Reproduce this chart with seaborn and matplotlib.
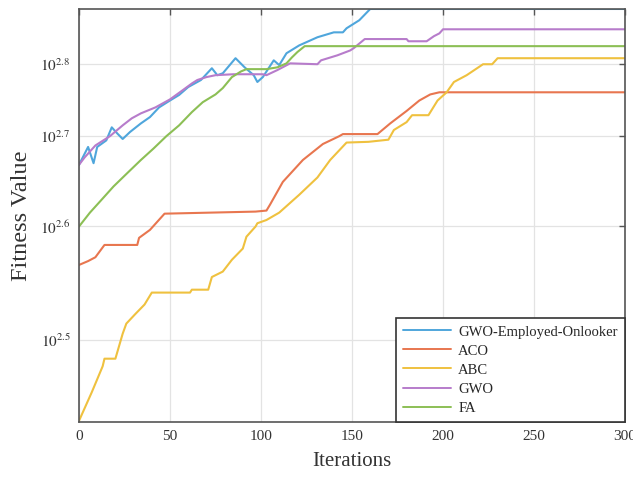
import numpy as np
import pandas as pd
import matplotlib
matplotlib.use("Agg")
import matplotlib.pyplot as plt
import matplotlib.ticker as mticker
from matplotlib.lines import Line2D
import seaborn as sns

# values (iteration, fitness)
gwo_eo_iter = [0, 5, 8, 10, 15, 18, 21, 24, 28, 34, 39, 44, 50, 55, 60, 67, 73, 76, 79,
               86, 91, 96, 98, 101, 107, 110, 114, 121, 131, 140, 145, 147, 154, 160, 300]
gwo_eo_fit = [463, 486, 465, 486, 495, 514, 505, 497, 507, 520, 530, 546, 558, 568, 583,
              597, 622, 607, 611, 645, 624, 607, 593, 603, 640, 629, 657, 677, 699, 713,
              713, 725, 750, 788, 788]

aco_iter = [0, 5, 9, 14, 32, 33, 39, 47, 97, 103, 105, 112, 123, 134, 143, 145, 164,
            171, 180, 187, 193, 198, 300]
aco_fit = [366, 369, 372, 382, 382, 388, 395, 410, 412, 413, 419, 443, 469, 490, 501,
           504, 504, 520, 540, 558, 569, 573, 573]

abc_iter = [0, 7, 13, 14, 20, 24, 26, 31, 36, 40, 61, 62, 71, 73, 79, 84, 90, 92, 97,
            98, 103, 110, 121, 131, 138, 147, 159, 170, 173, 180, 183, 192, 197, 202,
            206, 213, 222, 227, 230, 300]
abc_fit = [276, 289, 302, 306, 306, 320, 326, 332, 338, 346, 346, 348, 348, 357, 361,
           370, 379, 389, 398, 401, 404, 411, 429, 448, 469, 492, 493, 496, 510, 522,
           533, 533, 558, 573, 593, 607, 631, 631, 645, 645]

gwo_iter = [0, 3, 9, 17, 24, 29, 34, 42, 50, 57, 62, 65, 70, 75, 85, 101, 103, 109, 116,
            131, 133, 142, 149, 151, 157, 180, 181, 191, 195, 198, 200, 300]
gwo_fit = [463, 472, 488, 501, 517, 528, 536, 546, 560, 577, 590, 597, 603, 607, 609,
           609, 607, 618, 633, 631, 640, 652, 664, 670, 694, 694, 688, 688, 702, 710,
           722, 722]

fa_iter = [0, 6, 12, 19, 26, 34, 41, 48, 55, 62, 68, 75, 79, 84, 89, 92, 103, 109, 114,
           117, 120, 124, 300]
fa_fit = [398, 411, 423, 438, 452, 469, 484, 501, 517, 538, 555, 569, 581, 603, 615,
          620, 620, 624, 633, 647, 660, 675, 675]

labels = ["GWO-Employed-Onlooker", "ACO", "ABC", "GWO", "FA"]
colors = ["#4fa6dc", "#e8764f", "#efc13f", "#b77ccb", "#8cbf55"]
ytick_exp = [2.5, 2.6, 2.7, 2.8]
xticks = [0, 50, 100, 150, 200, 250, 300]

series = [(gwo_eo_iter, gwo_eo_fit), (aco_iter, aco_fit), (abc_iter, abc_fit),
          (gwo_iter, gwo_fit), (fa_iter, fa_fit)]
frames = []
for name, (it, fit) in zip(labels, series):
    frames.append(pd.DataFrame({"Iterations": it, "Fitness": fit, "Algorithm": name}))
df = pd.concat(frames, ignore_index=True)

sns.set_style("white")
plt.rcParams["font.family"] = ["Liberation Serif", "DejaVu Serif"]
plt.rcParams["mathtext.fontset"] = "stix"

fig = plt.figure(figsize=(6.33, 4.78), dpi=100)
ax = fig.add_axes([0.1248, 0.1172, 0.8626, 0.864])

# the y axis of the original is spaced like 1/value
ax.set_yscale("function", functions=(lambda v: -1.0 / v, lambda u: -1.0 / u))

sns.lineplot(data=df, x="Iterations", y="Fitness", hue="Algorithm",
             hue_order=labels, palette=dict(zip(labels, colors)),
             estimator=None, sort=False, linewidth=1.5, legend=False, ax=ax)

ax.set_xlim(0, 300)
ax.set_ylim(275.5, 788)
ax.set_xticks(xticks)
ax.yaxis.set_major_locator(mticker.FixedLocator([10 ** e for e in ytick_exp]))
ax.yaxis.set_major_formatter(mticker.FixedFormatter([rf"$10^{{{e}}}$" for e in ytick_exp]))
ax.yaxis.set_minor_locator(mticker.NullLocator())

ax.grid(True, color="#e3e3e3", linewidth=0.9)
ax.set_axisbelow(True)
for sp in ax.spines.values():
    sp.set_color("#555555")
    sp.set_linewidth(1.2)
ax.tick_params(direction="in", top=True, right=True, length=4, width=1,
               color="#555555", labelsize=11, labelcolor="#333333", pad=6)

ax.set_xlabel("Iterations", fontsize=15, color="#333333", labelpad=6)
ax.set_ylabel("Fitness Value", fontsize=17.5, color="#333333", labelpad=6)

handles = [Line2D([0], [0], color=c, lw=1.4) for c in colors]
leg = ax.legend(handles, labels, loc="lower right", fontsize=10.5,
                frameon=True, fancybox=False, framealpha=1, edgecolor="#333333",
                handlelength=3.3, handletextpad=0.5, labelspacing=0.4,
                borderaxespad=0.0, borderpad=0.5)
leg.get_frame().set_linewidth(1.2)

fig.savefig("out.png", dpi=100)
